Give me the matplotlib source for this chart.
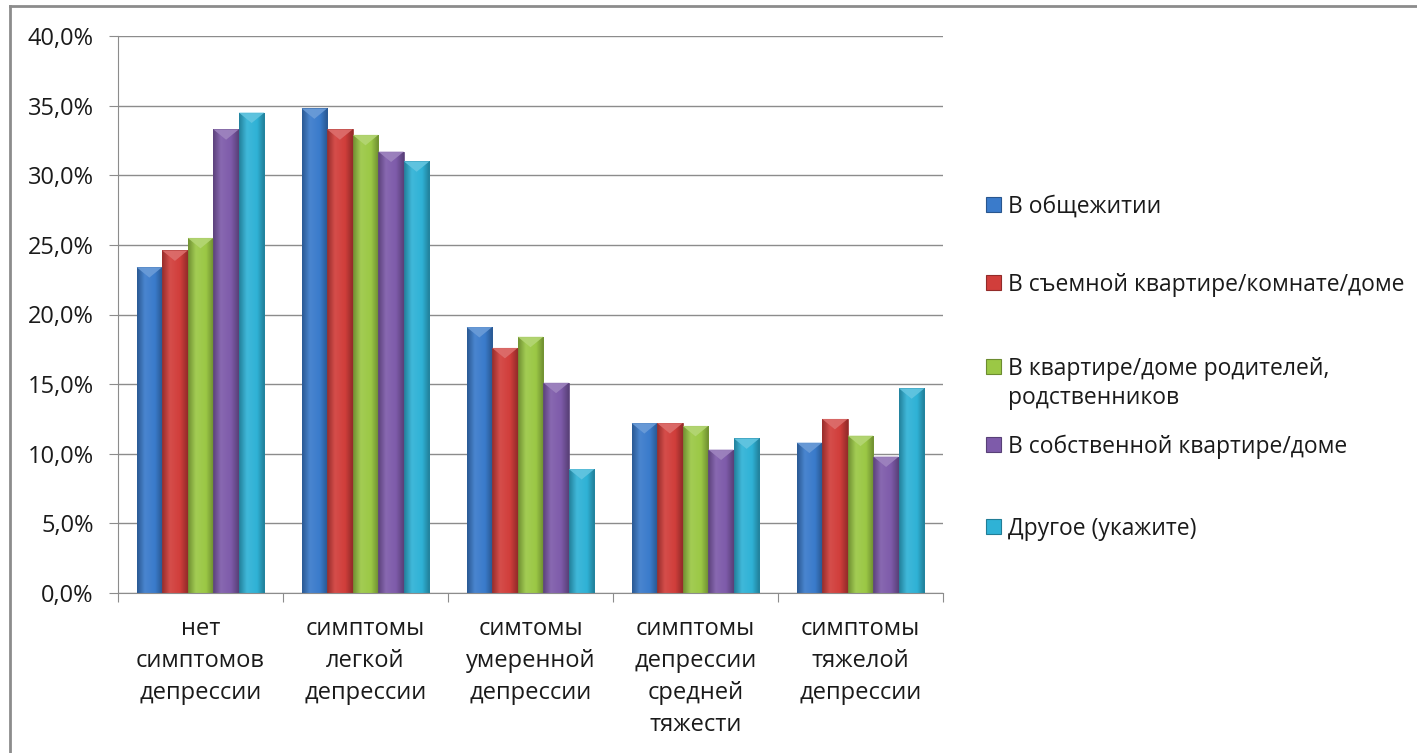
import numpy as np
import matplotlib.pyplot as plt
from matplotlib.colors import to_rgb, LinearSegmentedColormap
from matplotlib.patches import Polygon, Rectangle
from matplotlib.lines import Line2D
from matplotlib.ticker import FuncFormatter, MultipleLocator

plt.rcParams['font.family'] = ['Open Sans', 'DejaVu Sans']
plt.rcParams['text.color'] = '#1a1a1a'

# categories on the x axis
categories = ['нет\nсимптомов\nдепрессии',
              'симптомы\nлегкой\nдепрессии',
              'симтомы\nумеренной\nдепрессии',
              'симптомы\nдепрессии\nсредней\nтяжести',
              'симптомы\nтяжелой\nдепрессии']

# series (percent)
series_names = ['В общежитии',
                'В съемной квартире/комнате/доме',
                'В квартире/доме родителей,\nродственников',
                'В собственной квартире/доме',
                'Другое (укажите)']
dorm = [23.4, 34.8, 19.1, 12.2, 10.8]
rented = [24.6, 33.3, 17.6, 12.2, 12.5]
parents = [25.5, 32.9, 18.4, 12.0, 11.3]
own = [33.3, 31.7, 15.1, 10.3, 9.8]
other = [34.5, 31.0, 8.9, 11.1, 14.7]
series_values = [dorm, rented, parents, own, other]

colors = ['#3A7BCB', '#D13E3B', '#9BC845', '#7E5BAA', '#2FB2D6']
W, H = 1417, 753


def shade(c, f):
    r = np.array(to_rgb(c))
    if f < 1:
        return tuple(r * f)
    return tuple(r + (1 - r) * (f - 1))


fig = plt.figure(figsize=(W / 100, H / 100), dpi=100)
ax = fig.add_axes([118 / W, 1 - 593 / H, 825 / W, 557 / H])

x = np.arange(len(categories))
bar_w = 0.155
n = len(series_values)
grad = np.linspace(0, 1, 64).reshape(1, -1)

for i, (vals, c) in enumerate(zip(series_values, colors)):
    offs = (i - (n - 1) / 2) * bar_w
    bars = ax.bar(x + offs, vals, bar_w, color='none', edgecolor=shade(c, 0.75),
                  linewidth=0.6, zorder=3)
    cmap = LinearSegmentedColormap.from_list(
        'g%d' % i, [(0, shade(c, 0.72)), (0.3, shade(c, 1.08)),
                    (0.7, c), (1, shade(c, 0.7))])
    for b in bars:
        x0 = b.get_x()
        x1 = x0 + b.get_width()
        h = b.get_height()
        im = ax.imshow(grad, extent=[x0, x1, 0, h], aspect='auto', cmap=cmap,
                       zorder=2, interpolation='bicubic')
        im.set_clip_path(b)
        tri = Polygon([(x0, h), (x1, h), ((x0 + x1) / 2, h - 0.75)],
                      closed=True, facecolor=shade(c, 1.25), edgecolor='none',
                      alpha=0.9, zorder=4)
        ax.add_patch(tri)

ax.set_xlim(-0.5, len(categories) - 0.5)
ax.set_ylim(0, 40)
ax.yaxis.set_major_locator(MultipleLocator(5))
ax.yaxis.set_major_formatter(FuncFormatter(lambda v, p: f'{v:.1f}%'.replace('.', ',')))
ax.grid(axis='y', color='#8C8C8C', linewidth=1, zorder=0)
ax.set_axisbelow(True)

ax.set_xticks(np.arange(len(categories) + 1) - 0.5)
ax.set_xticklabels([])
ax.set_xticks(x, minor=True)
ax.set_xticklabels(categories, minor=True, fontsize=17, linespacing=1.46)
ax.tick_params(axis='x', which='minor', length=0, pad=17)
ax.tick_params(axis='x', which='major', length=6.5, color='#8C8C8C')
ax.tick_params(axis='y', length=6.5, color='#8C8C8C', labelsize=17, pad=11,
               labelcolor='#1a1a1a')
ax.tick_params(axis='x', which='minor', labelcolor='#1a1a1a')

for s in ['top', 'right']:
    ax.spines[s].set_visible(False)
for s in ['left', 'bottom']:
    ax.spines[s].set_color('#8C8C8C')

# legend, drawn by hand so the marker sits on the first line of each label
legend_y = [205, 283, 367, 445, 527]
for name, c, yy in zip(series_names, colors, legend_y):
    fig.add_artist(Rectangle((986 / W, 1 - (yy + 7) / H), 15 / W, 15 / H,
                             transform=fig.transFigure, facecolor=c,
                             edgecolor=shade(c, 0.7), linewidth=0.8))
    fig.text(1008 / W, 1 - (yy - 10) / H, name, fontsize=16.5, va='top',
             ha='left', linespacing=1.3)

# frame of the picture (only top and left edges show)
fig.add_artist(Line2D([9.5 / W, 9.5 / W], [0, 1 - 6 / H], transform=fig.transFigure,
                      color='#8C8C8C', linewidth=2))
fig.add_artist(Line2D([9.5 / W, 1], [1 - 6 / H, 1 - 6 / H], transform=fig.transFigure,
                      color='#8C8C8C', linewidth=2))

fig.savefig('out.png', dpi=100)
